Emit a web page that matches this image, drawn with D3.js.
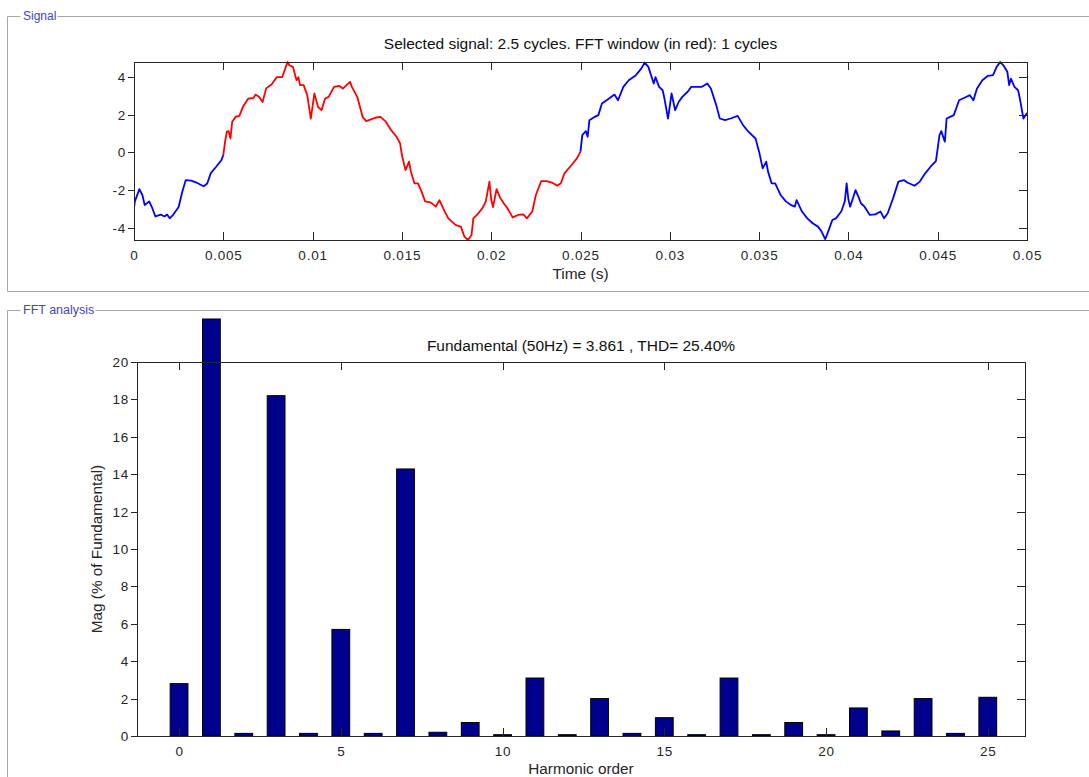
<!DOCTYPE html>
<html>
<head>
<meta charset="utf-8">
<script src="https://cdn.jsdelivr.net/npm/d3@7"></script>
<style>
  body { margin: 0; background: #fff; }
  text { font-family: "Liberation Sans", Arial, sans-serif; }
</style>
</head>
<body>
<div id="chart"></div>
<script>
// Signal samples (time in s, value)
var sigTime = [
  0, 0.00005, 0.0003, 0.00047, 0.0006, 0.00085, 0.001, 0.0012, 0.0015, 0.0017,
  0.00185, 0.002, 0.0022, 0.0025, 0.0027, 0.0029, 0.0032, 0.0035, 0.0037, 0.0039,
  0.0041, 0.0043, 0.0046, 0.0049, 0.005, 0.0051, 0.0052, 0.0053, 0.0054, 0.0055,
  0.0057, 0.0059, 0.0061, 0.0064, 0.0067, 0.0068, 0.007, 0.0072, 0.0074, 0.0077,
  0.008, 0.0083, 0.0085, 0.0086, 0.0087, 0.0089, 0.0091, 0.0092, 0.0093, 0.0095,
  0.0097, 0.0099, 0.0101, 0.0103, 0.0105, 0.0107, 0.0109, 0.0112, 0.0115, 0.0117,
  0.0119, 0.0121, 0.0122, 0.0125, 0.0128, 0.013, 0.0133, 0.0135, 0.0138, 0.0141,
  0.0144, 0.0147, 0.0149, 0.015, 0.0152, 0.0154, 0.0155, 0.0157, 0.0159, 0.0161,
  0.0163, 0.0166, 0.0169, 0.0171, 0.0174, 0.0176, 0.018, 0.0183, 0.0185, 0.0187,
  0.0189, 0.019, 0.0192, 0.0195, 0.0197, 0.0199, 0.02, 0.0201, 0.0203, 0.0205,
  0.0207, 0.0209, 0.0212, 0.0215, 0.0218, 0.022, 0.0223, 0.0225, 0.0228, 0.0231,
  0.0234, 0.0237, 0.0239, 0.0241, 0.0245, 0.0248, 0.025, 0.0251, 0.0253, 0.0254,
  0.0255, 0.0258, 0.026, 0.0262, 0.0266, 0.0269, 0.0271, 0.0274, 0.0277, 0.0281,
  0.0284, 0.0286, 0.0288, 0.0291, 0.0292, 0.0294, 0.0296, 0.0297, 0.0299, 0.0301,
  0.0303, 0.0305, 0.0307, 0.031, 0.0312, 0.0316, 0.0318, 0.0321, 0.0323, 0.0326,
  0.0328, 0.0331, 0.0334, 0.0338, 0.0341, 0.0344, 0.0348, 0.035, 0.0352, 0.0354,
  0.0355, 0.0357, 0.0359, 0.0362, 0.0365, 0.0368, 0.037, 0.0371, 0.0374, 0.0377,
  0.038, 0.0383, 0.0385, 0.0387, 0.0388, 0.0391, 0.0393, 0.0396, 0.0398, 0.0399,
  0.04, 0.0401, 0.0404, 0.0406, 0.0407, 0.0409, 0.0412, 0.0415, 0.0418, 0.042,
  0.0422, 0.0425, 0.0428, 0.0431, 0.0433, 0.0437, 0.044, 0.0443, 0.0446, 0.0449,
  0.045, 0.0451, 0.0452, 0.0454, 0.0455, 0.0457, 0.0459, 0.0462, 0.0465, 0.0468,
  0.047, 0.0472, 0.0475, 0.0478, 0.0481, 0.0483, 0.0485, 0.0487, 0.0489, 0.049,
  0.0491, 0.0493, 0.0495, 0.0496, 0.0498, 0.05
];
var sigValue = [
  -2.97, -2.6, -1.95, -2.26, -2.8, -2.6, -2.9, -3.4, -3.3, -3.4,
  -3.3, -3.5, -3.3, -2.9, -2.1, -1.47, -1.5, -1.6, -1.7, -1.8,
  -1.65, -1.1, -0.76, -0.4, -0.14, 0.57, 1.1, 1.13, 0.74, 1.63,
  1.9, 1.94, 2.42, 2.86, 2.9, 3.07, 2.95, 2.68, 3.4, 3.6,
  4.0, 4.0, 4.54, 4.8, 4.63, 4.54, 3.83, 4.0, 3.57, 3.57,
  3.04, 1.8, 3.13, 2.42, 2.24, 2.86, 2.95, 3.48, 3.53, 3.39,
  3.57, 3.75, 3.48, 2.95, 1.89, 1.66, 1.77, 1.84, 1.89, 1.63,
  1.18, 0.83, 0.48, -0.14, -0.94, -0.49, -1.0, -1.64, -1.64, -2.08,
  -2.6, -2.65, -2.88, -2.53, -3.14, -3.5, -3.85, -3.94, -4.47, -4.65,
  -4.38, -3.5, -3.32, -2.97, -2.6, -1.55, -2.5, -2.9, -1.95, -2.4,
  -2.7, -2.95, -3.45, -3.32, -3.29, -3.5, -3.14, -2.26, -1.52, -1.52,
  -1.6, -1.77, -1.64, -1.11, -0.67, -0.32, 0.04, 0.92, 1.13, 0.83,
  1.71, 1.89, 1.98, 2.6, 2.86, 3.07, 2.77, 3.48, 3.83, 4.1,
  4.45, 4.77, 4.54, 3.66, 4.0, 3.48, 3.3, 2.86, 1.8, 3.13,
  2.24, 2.69, 2.95, 3.22, 3.48, 3.48, 3.48, 3.66, 3.39, 2.51,
  1.8, 1.71, 1.8, 1.94, 1.45, 1.1, 0.74, 0.04, -0.85, -0.49,
  -1.02, -1.64, -1.64, -2.26, -2.6, -2.8, -2.88, -2.53, -3.14, -3.5,
  -3.76, -3.94, -4.2, -4.6, -4.38, -3.59, -3.5, -3.14, -2.6, -1.64,
  -2.5, -2.88, -2.0, -2.44, -2.7, -2.88, -3.32, -3.29, -3.14, -3.5,
  -3.23, -2.44, -1.55, -1.47, -1.6, -1.77, -1.55, -1.11, -0.76, -0.46,
  0.21, 0.92, 1.13, 0.57, 1.8, 1.89, 1.98, 2.77, 2.9, 3.04,
  2.77, 3.39, 3.83, 4.06, 4.1, 4.54, 4.8, 4.59, 4.28, 3.57,
  3.92, 3.48, 3.3, 2.86, 1.8, 2.1
];
// FFT window shown in red
var fftWindow = [0.005, 0.025];

var timeTicks = [0, 0.005, 0.01, 0.015, 0.02, 0.025, 0.03, 0.035, 0.04, 0.045, 0.05];
var timeTickLabels = ["0", "0.005", "0.01", "0.015", "0.02", "0.025", "0.03", "0.035", "0.04", "0.045", "0.05"];
var sigYTicks = [-4, -2, 0, 2, 4];

// Harmonic spectrum (% of fundamental), bar 1 as seen clipped in the picture
var harmonics = d3.range(0, 26);
var harmMag = [
  2.8, 22.3, 0.14, 18.2, 0.14, 5.7, 0.14, 14.28, 0.2, 0.72,
  0.07, 3.1, 0.07, 2.0, 0.14, 0.98, 0.07, 3.1, 0.07, 0.72,
  0.07, 1.5, 0.27, 2.0, 0.14, 2.07
];
var harmTicks = [0, 5, 10, 15, 20, 25];
var magTicks = [0, 2, 4, 6, 8, 10, 12, 14, 16, 18, 20];

var svgWidth = 1089;
var svgHeight = 777;

var svg = d3
  .select("#chart")
  .append("svg")
  .attr("width", svgWidth)
  .attr("height", svgHeight);

// panel frames with titles
function panel(top, bottom, label, size) {
  var g = svg.append("g");
  var lbl = g
    .append("text")
    .attr("x", 23)
    .attr("y", top + 4)
    .attr("font-size", size)
    .attr("fill", "#4646b4")
    .text(label);
  var w = lbl.node().getComputedTextLength();
  g.append("path")
    .attr("d", `M20.5,${top + 0.5}H7.5V${bottom + 0.5}H${svgWidth}M${24 + w},${top + 0.5}H${svgWidth}`)
    .attr("fill", "none")
    .attr("stroke", "#a8a8a8");
}
panel(16, 291, "Signal", 12);
panel(310, 800, "FFT analysis", 12.5);

// ---------- Signal plot ----------
var sig = { left: 134, right: 1027, top: 62, bottom: 240 };
var sigData = sigTime.map((t, i) => ({ t: t, v: sigValue[i] }));

var xTime = d3.scaleLinear().domain([0, 0.05]).range([sig.left, sig.right]);
var ySig = d3
  .scaleLinear()
  .domain(d3.extent(sigValue))
  .range([sig.bottom, sig.top]);

svg.append("clipPath")
  .attr("id", "sigClip")
  .append("rect")
  .attr("x", sig.left)
  .attr("y", sig.top - 1)
  .attr("width", sig.right - sig.left)
  .attr("height", sig.bottom - sig.top + 2);

var line = d3.line().x(d => xTime(d.t)).y(d => ySig(d.v));

// blue outside the FFT window, red inside
var segments = [
  { color: "#0000ff", data: sigData.filter(d => d.t <= fftWindow[0]) },
  { color: "#ff0000", data: sigData.filter(d => d.t >= fftWindow[0] && d.t <= fftWindow[1]) },
  { color: "#0000ff", data: sigData.filter(d => d.t >= fftWindow[1]) }
];

svg.append("g")
  .attr("clip-path", "url(#sigClip)")
  .selectAll("path")
  .data(segments)
  .enter()
  .append("path")
  .attr("fill", "none")
  .attr("stroke", d => d.color)
  .attr("stroke-width", 1.8)
  .attr("stroke-linejoin", "round")
  .attr("d", d => line(d.data));

// MATLAB-like box with ticks
function drawBox(box, xScale, xTicks, xLabels, yScale, yTicks) {
  var g = svg.append("g").attr("stroke", "#262626").attr("fill", "none");
  g.append("rect")
    .attr("x", box.left + 0.5)
    .attr("y", box.top + 0.5)
    .attr("width", box.right - box.left)
    .attr("height", box.bottom - box.top);
  xTicks.forEach(function(t) {
    var x = Math.round(xScale(t)) + 0.5;
    g.append("path").attr("d", `M${x},${box.bottom}v-8M${x},${box.top}v8`);
  });
  yTicks.forEach(function(t) {
    var y = Math.round(yScale(t)) + 0.5;
    g.append("path").attr("d", `M${box.left - 6},${y}H${box.left}M${box.right},${y}h-8`);
  });

  svg.append("g")
    .selectAll("text")
    .data(xTicks)
    .enter()
    .append("text")
    .attr("x", d => xScale(d) + 0.5)
    .attr("y", box.bottom + 20)
    .attr("text-anchor", "middle")
    .attr("font-size", 13.5)
    .attr("letter-spacing", 0.8)
    .attr("fill", "#262626")
    .text((d, i) => xLabels[i]);

  svg.append("g")
    .selectAll("text")
    .data(yTicks)
    .enter()
    .append("text")
    .attr("x", box.left - 8)
    .attr("y", d => yScale(d) + 5)
    .attr("text-anchor", "end")
    .attr("font-size", 13.5)
    .attr("letter-spacing", 0.8)
    .attr("fill", "#262626")
    .text(d => String(d));
}

drawBox(sig, xTime, timeTicks, timeTickLabels, ySig, sigYTicks);

svg.append("text")
  .attr("x", (sig.left + sig.right) / 2)
  .attr("y", 49)
  .attr("text-anchor", "middle")
  .attr("font-size", 15.5)
  .attr("fill", "#111")
  .text("Selected signal: 2.5 cycles. FFT window (in red): 1 cycles");

svg.append("text")
  .attr("x", (sig.left + sig.right) / 2)
  .attr("y", 279)
  .attr("text-anchor", "middle")
  .attr("font-size", 15.5)
  .attr("fill", "#262626")
  .text("Time (s)");

// ---------- FFT plot ----------
var fft = { left: 137, right: 1025, top: 362, bottom: 736 };

var xHarm = d3.scaleLinear().domain([-1.3, 26.15]).range([fft.left, fft.right]);
var yMag = d3.scaleLinear().domain([0, 20]).range([fft.bottom, fft.top]);
var barWidth = xHarm(0.55) - xHarm(0);

svg.append("g")
  .selectAll("rect")
  .data(harmonics)
  .enter()
  .append("rect")
  .attr("x", d => xHarm(d) - barWidth / 2)
  .attr("y", d => yMag(harmMag[d]))
  .attr("width", barWidth)
  .attr("height", d => yMag(0) - yMag(harmMag[d]))
  .attr("fill", "#00008f")
  .attr("stroke", "#000")
  .attr("stroke-width", 1);

drawBox(fft, xHarm, harmTicks, harmTicks.map(String), yMag, magTicks);

svg.append("text")
  .attr("x", (fft.left + fft.right) / 2)
  .attr("y", 351)
  .attr("text-anchor", "middle")
  .attr("font-size", 15.5)
  .attr("fill", "#111")
  .text("Fundamental (50Hz) = 3.861 , THD= 25.40%");

svg.append("text")
  .attr("x", (fft.left + fft.right) / 2)
  .attr("y", 774)
  .attr("text-anchor", "middle")
  .attr("font-size", 15.3)
  .attr("fill", "#262626")
  .text("Harmonic order");

svg.append("text")
  .attr("transform", `translate(102, ${(fft.top + fft.bottom) / 2}) rotate(-90)`)
  .attr("text-anchor", "middle")
  .attr("font-size", 15.3)
  .attr("fill", "#262626")
  .text("Mag (% of Fundamental)");
</script>
</body>
</html>
